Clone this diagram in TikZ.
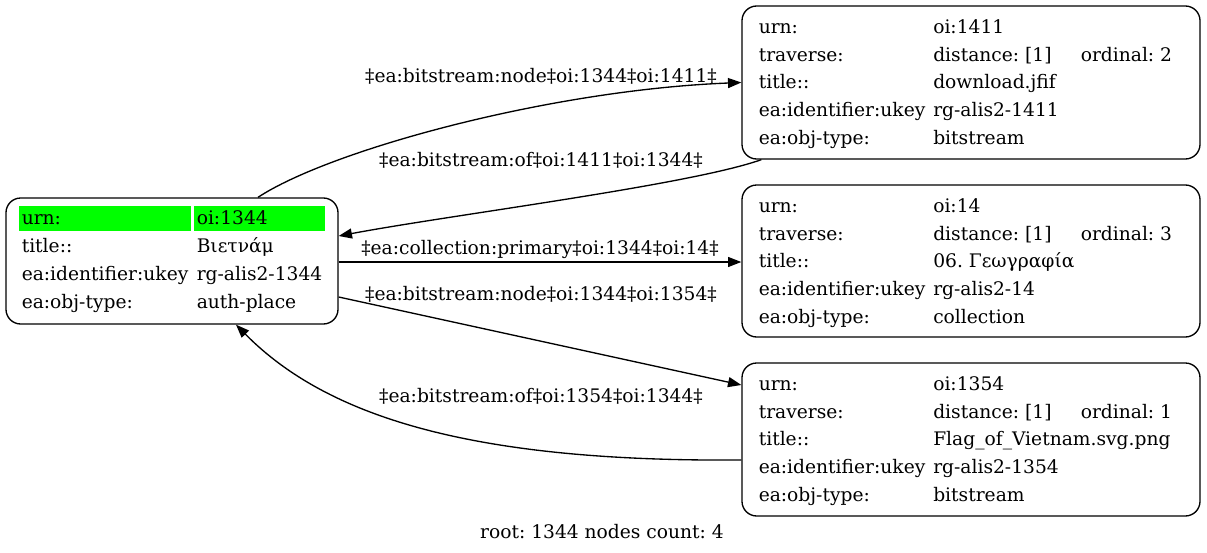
\documentclass[tikz,border=0pt]{standalone}
\usepackage{fontspec}
\setmainfont{DejaVu Serif}
\usetikzlibrary{arrows.meta,calc}
\frenchspacing
\begin{document}
\begin{tikzpicture}[x=0.75pt,y=-0.75pt,
  box/.style={draw,line width=1pt,rounded corners=11pt,inner sep=0pt},
  txt/.style={inner sep=0pt,anchor=base west,font=\fontsize{14}{16}\selectfont},
  elabel/.style={inner sep=0pt,font=\fontsize{14}{16}\selectfont},
  edge/.style={line width=1pt,-{Triangle[length=10pt,width=7.5pt]}},
  hl/.style={fill={rgb,255:red,0;green,255;blue,0},draw=none}]
\useasboundingbox (0,0) rectangle (1207,553);
\fill[white] (0,0) rectangle (1207,553);

% boxes
\node[box,minimum width=249pt,minimum height=94.5pt] (n1344) at (172,261) {};
\node[box,minimum width=343.5pt,minimum height=114.75pt] (n1411) at (971,82.5) {};
\node[box,minimum width=343.5pt,minimum height=114pt] (n14) at (971,261) {};
\node[box,minimum width=343.5pt,minimum height=114.75pt] (n1354) at (971,439.5) {};

% node 1344
\fill[hl] (19,206) rectangle (190.5,231);
\fill[hl] (193.5,206) rectangle (325,231);
\node[txt] (a1) at (21.5,224) {urn:};
\node[txt] (a2) at (196.5,224) {oi:1344};
\node[txt] (a3) at (21.5,252) {title::};
\node[txt] (a4) at (196.5,252) {Βιετνάμ};
\node[txt] (a5) at (21.5,280) {ea:identifier:ukey};
\node[txt] (a6) at (196.5,280) {rg-alis2-1344};
\node[txt] (a7) at (21.5,308) {ea:obj-type:};
\node[txt] (a8) at (196.5,308) {auth-place};

% node 1411
\node[txt] (b1) at (758.5,33.5) {urn:};
\node[txt] (b2) at (933,33.5) {oi:1411};
\node[txt] (b3) at (758.5,61.2) {traverse:};
\node[txt] (b4) at (933,61.2) {distance: [1]};
\node[txt] (b5) at (1080.5,61.2) {ordinal: 2};
\node[txt] (b6) at (758.5,88.9) {title::};
\node[txt] (b7) at (933,88.9) {download.jfif};
\node[txt] (b8) at (758.5,116.6) {ea:identifier:ukey};
\node[txt] (b9) at (933,116.6) {rg-alis2-1411};
\node[txt] (b10) at (758.5,144.3) {ea:obj-type:};
\node[txt] (b11) at (933,144.3) {bitstream};

% node 14
\node[txt] (c1) at (758.5,212.5) {urn:};
\node[txt] (c2) at (933,212.5) {oi:14};
\node[txt] (c3) at (758.5,240.2) {traverse:};
\node[txt] (c4) at (933,240.2) {distance: [1]};
\node[txt] (c5) at (1080.5,240.2) {ordinal: 3};
\node[txt] (c6) at (758.5,267.9) {title::};
\node[txt] (c7) at (933,267.9) {06. Γεωγραφία};
\node[txt] (c8) at (758.5,295.6) {ea:identifier:ukey};
\node[txt] (c9) at (933,295.6) {rg-alis2-14};
\node[txt] (c10) at (758.5,323.3) {ea:obj-type:};
\node[txt] (c11) at (933,323.3) {collection};

% node 1354
\node[txt] (d1) at (758.5,390.5) {urn:};
\node[txt] (d2) at (933,390.5) {oi:1354};
\node[txt] (d3) at (758.5,418.2) {traverse:};
\node[txt] (d4) at (933,418.2) {distance: [1]};
\node[txt] (d5) at (1080.5,418.2) {ordinal: 1};
\node[txt] (d6) at (758.5,445.9) {title::};
\node[txt] (d7) at (933,445.9) {Flag\_of\_Vietnam.svg.png};
\node[txt] (d8) at (758.5,473.6) {ea:identifier:ukey};
\node[txt] (d9) at (933,473.6) {rg-alis2-1354};
\node[txt] (d10) at (758.5,501.3) {ea:obj-type:};
\node[txt] (d11) at (933,501.3) {bitstream};

% edges
\draw[edge] ($(n1344.north)+(86,0)$) .. controls (330,150) and (550,90) .. (n1411.west);
\draw[edge] ($(n1411.south west)+(20,0)$) .. controls (690,185) and (450,215) .. ($(n1344.east)+(0,-25)$);
\draw[edge] ($(n1344.east)+(0,1)$) -- ($(n14.west)+(0,1)$);
\draw[edge] ($(n1344.east)+(0,36)$) -- ($(n1354.west)+(0,-54.5)$);
\draw[edge] ($(n1354.west)+(0,20.5)$) .. controls (480,462) and (330,420) .. ($(n1344.south)+(64,0)$);

% edge labels
\node[elabel] (l1) at (541,76) {‡ea:bitstream:node‡oi:1344‡oi:1411‡};
\node[elabel] (l2) at (541,160) {‡ea:bitstream:of‡oi:1411‡oi:1344‡};
\node[elabel] (l3) at (540,249) {‡ea:collection:primary‡oi:1344‡oi:14‡};
\node[elabel] (l4) at (541,294) {‡ea:bitstream:node‡oi:1344‡oi:1354‡};
\node[elabel] (l5) at (541,396) {‡ea:bitstream:of‡oi:1354‡oi:1344‡};
\node[elabel] (root) at (602,532) {root: 1344 nodes count: 4};
\end{tikzpicture}
\end{document}
